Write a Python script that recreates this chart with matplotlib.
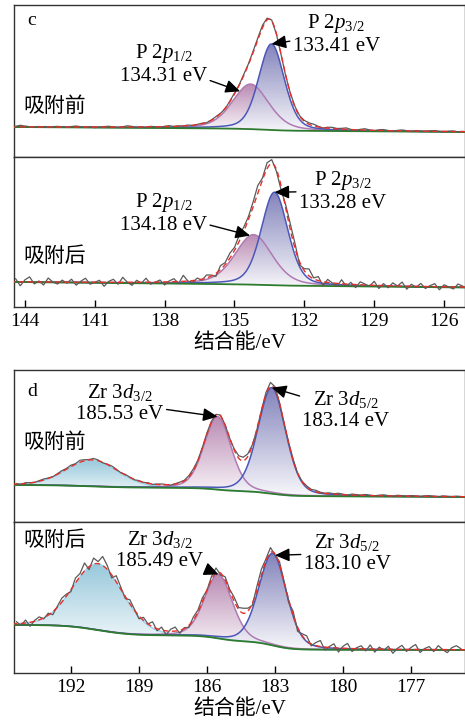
import numpy as np
import matplotlib
matplotlib.use("Agg")
import matplotlib.pyplot as plt
from matplotlib.colors import LinearSegmentedColormap
from matplotlib.patches import Polygon

plt.rcParams['font.family'] = ['Liberation Serif', 'Noto Sans CJK SC']
plt.rcParams['mathtext.fontset'] = 'custom'
plt.rcParams['mathtext.rm'] = 'Liberation Serif'
plt.rcParams['mathtext.it'] = 'Liberation Serif:italic'

# ---------------- P 2p spectra ----------------
p_xlim = (144.47, 125.1)
p_ticks = [144, 141, 138, 135, 132, 129, 126]
p_step = (144.4, 125.2, 0.2)          # measured energy grid: start, end, step

# peak fit: centre (eV), height, FWHM (eV), Lorentzian fraction
p_before_centers = [134.31, 133.41]
p_before_heights = [45, 86]
p_before_fwhm = [1.85, 1.3]
p_before_lfrac = [0.35, 0.3]
p_before_bg = (30, 25, 2)             # left level, right level, Shirley step

p_after_centers = [134.18, 133.28]
p_after_heights = [50, 93]
p_after_fwhm = [1.9, 1.35]
p_after_lfrac = [0.35, 0.3]
p_after_bg = (25, 19.5, 1)

# raw counts minus fitted envelope
p_before_resid = [
    0.5, 1.5, 0.8, 0.2, -0.3, 0.4, 0.0, -0.5, 0.3, 0.6,
    0.2, -0.4, 0.5, 1.0, 0.3, -0.2, 0.4, -0.6, 0.0, 0.5,
    0.8, 0.2, -0.5, 0.3, 1.2, 0.6, -0.3, 0.2, -0.4, 0.5,
    0.0, -0.6, 0.3, 0.8, -0.2, 0.4, 0.0, 0.6, -0.3, 0.2,
    0.5, -0.4, 0.3, 0.8, 0.2, -0.5, 0.6, 1.0, 0.4, 1.2,
    0.8, 1.5, 2.0, 2.5, 1.8, 1.0, -0.5, -1.0, -0.8, 0.5,
    0.8, 0.4, 1.0, 1.5, 1.8, 0.6, -0.3, 0.9, 1.2, 0.4,
    0.8, 1.5, 0.2, -0.5, 0.6, 1.4, 0.3, -0.2, 0.7, 1.0,
    0.2, -0.6, 0.5, 1.0, 0.3, -0.4, 0.6, 0.2, -0.3, 0.5,
    0.8, 0.0, -0.5, 0.4, 0.6, -0.2, 0.3]
p_after_resid = [
    3, -4, 2, 5, -2, 1, -3, 4, 0, -2,
    2, -1, 3, -3, 1, 4, -2, 0, 2, -4,
    1, 3, -2, 5, 0, -3, 2, -1, 4, -2,
    0, 2, -3, 1, 3, -2, 6, 0, -2, 2,
    -1, 3, 1, -3, 4, 2, 5, 3, 6, 4,
    3, 5, 8, 2, 6, 4, -2, -4, 3, 6,
    5, -3, 2, 7, 1, 4, -4, 3, 0, -3,
    4, -2, 2, -3, 3, 1, -1, 4, -3, 2,
    -2, 3, 0, 4, -3, 2, -1, 3, -2, 1,
    3, -3, 2, 0, -2, 3, 1]

# ---------------- Zr 3d spectra ----------------
z_xlim = (194.51, 174.62)
z_ticks = [192, 189, 186, 183, 180, 177]
z_step = (194.4, 174.8, 0.2)

z_before_centers = [191.07, 185.53, 183.14]
z_before_heights = [26, 73, 106]
z_before_fwhm = [2.7, 1.4, 1.45]
z_before_lfrac = [0.1, 0.25, 0.25]
z_before_bg = (37, 25, 10)

z_after_centers = [190.8, 185.49, 183.10]
z_after_heights = [66, 64, 92]
z_after_fwhm = [2.6, 1.45, 1.45]
z_after_lfrac = [0.1, 0.25, 0.25]
z_after_bg = (48, 23, 25)

z_before_resid = [
    0.5, -0.5, 0.8, 0.3, -0.2, 0.6, 1.0, 0.4, -0.3, 0.5,
    1.2, 0.8, 1.5, 0.6, 2.0, 1.0, 0.4, 1.5, 0.8, -0.5,
    0.3, 1.0, 0.5, -0.3, 0.6, 0.2, -0.4, 0.5, 0.0, 0.6,
    -0.3, 0.4, 0.8, 0.2, -0.5, 0.3, 0.8, 0.5, 1.2, 1.5,
    0.8, 1.0, 1.5, 0.6, 0.4, 1.0, 0.3, -0.5, 1.0, 2.5,
    3.5, 2.5, 0.5, -0.8, 0.5, 2.0, 4.0, 3.0, 0.8, -0.5,
    0.6, 1.0, -0.4, 0.5, 1.2, 0.8, 1.5, 0.6, 0.2, 1.0,
    0.4, 1.2, 0.5, -0.3, 1.0, 0.6, 0.2, 1.0, 0.4, -0.2,
    0.6, 1.0, 0.3, -0.4, 0.8, 0.5, 0.0, 0.7, 0.3, -0.3,
    0.5, 0.8, 0.2, -0.4, 0.6, 0.3, 0.0, 0.5, 0.2]
z_after_resid = [
    2, -2, 3, -4, 1, 3, -1, 2, -3, 1,
    4, 2, -2, 5, 3, 8, -3, 6, 2, 9,
    4, -3, 6, 2, -2, 4, 1, -3, 3, 0,
    5, -2, 3, -4, 2, 4, -3, 1, -2, 3,
    2, 4, 0, 3, 5, -2, 3, 1, 4, 2,
    5, 3, -2, 4, 6, 2, 5, -1, 3, 0,
    -3, 4, -4, 2, 5, -2, 3, 6, -3, 1,
    4, -4, 2, 5, -3, 1, 3, -2, 4, -3,
    2, -1, 3, -4, 1, 4, -2, 2, 5, -3,
    1, 3, -2, 4, 0, -3, 2, 4, 1]

state_labels = ['吸附前', '吸附后']
xlabel = '结合能/eV'

BLUE = ('#6c6cb0', '#4b58b8')
PINK = ('#ad76a6', '#b07ab2')
CYAN = ('#86bfd6', '#9fd3ec')


def pvoigt(x, c, h, w, m):
    d = 4 * (x - c) ** 2 / w ** 2
    return h * ((1 - m) * np.exp(-np.log(2) * d) + m / (1 + d))


def shirley(x, comps, bg):
    left, right, step = bg
    xl, xr = x.max(), x.min()
    total = np.sum(comps, axis=0)
    order = np.argsort(x)
    cum = np.zeros_like(x)
    cum[order] = np.cumsum(total[order])
    frac = cum / cum.max()
    lin = right + (left - right - step) * (x - xr) / (xl - xr)
    return lin + step * frac


def grad_fill(ax, x, lower, upper, color):
    verts = np.column_stack([np.r_[x, x[::-1]], np.r_[upper, lower[::-1]]])
    poly = Polygon(verts, closed=True, facecolor='none', edgecolor='none')
    ax.add_patch(poly)
    cmap = LinearSegmentedColormap.from_list('g', ['#ffffff', color])
    grad = np.linspace(0.05, 1, 256).reshape(-1, 1)
    im = ax.imshow(grad, extent=[x.min(), x.max(), lower.min(), upper.max()],
                   origin='lower', cmap=cmap, aspect='auto', alpha=0.85,
                   zorder=1, vmin=0, vmax=1)
    im.set_clip_path(poly)


def spectrum(ax, xlim, step, centers, heights, fwhm, lfrac, bg, resid, colors):
    x = np.linspace(xlim[1], xlim[0], 800)
    comps = [pvoigt(x, c, h, w, m) for c, h, w, m in zip(centers, heights, fwhm, lfrac)]
    base = shirley(x, comps, bg)
    for comp, col in zip(comps, colors):
        grad_fill(ax, x, base, base + comp, col[0])
    for comp, col in zip(comps, colors):
        ax.plot(x, base + comp, color=col[1], lw=1.1, zorder=2)
    ax.plot(x, base, color='#2e7a2e', lw=1.3, zorder=3)
    env = base + np.sum(comps, axis=0)

    xr = np.arange(step[0], step[1] - 1e-6, -step[2])
    env_r = np.interp(xr, x, env)
    ax.plot(xr, env_r + np.asarray(resid), color='#5a5a5a', lw=0.9, zorder=4)
    ax.plot(x, env, color='#e53028', lw=1.0, ls=(0, (4, 2.5)), zorder=5)
    curves = [base + comp for comp in comps]
    return x, curves


def on_curve(x, curve, e):
    return (e, float(np.interp(e, x, curve)))


W, H = 465, 724
fig = plt.figure(figsize=(W / 100, H / 100), dpi=100)


def add_axes(top_px, bot_px):
    ax = fig.add_axes([14 / W, 1 - bot_px / H, 451 / W, (bot_px - top_px) / H])
    ax.set_ylim(0, bot_px - top_px)
    for s in ax.spines.values():
        s.set_linewidth(1.0)
        s.set_color('#333333')
    ax.set_yticks([])
    return ax


ARROW = dict(arrowstyle='-|>,head_length=0.55,head_width=0.25', color='k', lw=1.0,
             mutation_scale=16, shrinkA=0, shrinkB=0)
TXT = dict(fontsize=15, ha='center', va='center', linespacing=1.1, zorder=6)

# ---- panel c ----
ax1 = add_axes(5, 157)
ax2 = add_axes(157, 307)
ax1.set_xticks([])
ax2.set_xticks(p_ticks)
ax2.tick_params(axis='x', direction='in', length=5, width=1.0, labelsize=14, pad=4)
ax2.set_xlabel(xlabel, fontsize=15, labelpad=3)

x, cv = spectrum(ax1, p_xlim, p_step, p_before_centers, p_before_heights,
                 p_before_fwhm, p_before_lfrac, p_before_bg, p_before_resid, [PINK, BLUE])
ax1.annotate('P 2$p_{3/2}$\n133.41 eV', xy=on_curve(x, cv[1], p_before_centers[1]),
             xytext=(130.63, 123), arrowprops=ARROW, **TXT)
ax1.annotate('P 2$p_{1/2}$\n134.31 eV', xy=on_curve(x, cv[0], p_before_centers[0] + 0.45),
             xytext=(138.04, 93), arrowprops=ARROW, **TXT)
ax1.text(0.03, 0.9, 'c', transform=ax1.transAxes, fontsize=14, va='center')
ax1.text(0.02, 0.33, state_labels[0], transform=ax1.transAxes, fontsize=15, va='center')

x, cv = spectrum(ax2, p_xlim, p_step, p_after_centers, p_after_heights,
                 p_after_fwhm, p_after_lfrac, p_after_bg, p_after_resid, [PINK, BLUE])
ax2.annotate('P 2$p_{3/2}$\n133.28 eV', xy=on_curve(x, cv[1], p_after_centers[1]),
             xytext=(130.37, 116), arrowprops=ARROW, **TXT)
ax2.annotate('P 2$p_{1/2}$\n134.18 eV', xy=on_curve(x, cv[0], p_after_centers[0] + 0.15),
             xytext=(138.04, 94), arrowprops=ARROW, **TXT)
ax2.text(0.02, 0.33, state_labels[1], transform=ax2.transAxes, fontsize=15, va='center')

# ---- panel d ----
ax3 = add_axes(370, 522)
ax4 = add_axes(522, 673)
ax3.set_xticks([])
ax4.set_xticks(z_ticks)
ax4.tick_params(axis='x', direction='in', length=5, width=1.0, labelsize=14, pad=4)
ax4.set_xlabel(xlabel, fontsize=15, labelpad=3)

x, cv = spectrum(ax3, z_xlim, z_step, z_before_centers, z_before_heights,
                 z_before_fwhm, z_before_lfrac, z_before_bg, z_before_resid, [CYAN, PINK, BLUE])
ax3.annotate('Zr 3$d_{3/2}$\n185.53 eV', xy=on_curve(x, cv[1], z_before_centers[1]),
             xytext=(189.83, 119), arrowprops=ARROW, **TXT)
ax3.annotate('Zr 3$d_{5/2}$\n183.14 eV', xy=on_curve(x, cv[2], z_before_centers[2]),
             xytext=(179.87, 112), arrowprops=ARROW, **TXT)
ax3.text(0.03, 0.86, 'd', transform=ax3.transAxes, fontsize=14, va='center')
ax3.text(0.02, 0.52, state_labels[0], transform=ax3.transAxes, fontsize=15, va='center')

x, cv = spectrum(ax4, z_xlim, z_step, z_after_centers, z_after_heights,
                 z_after_fwhm, z_after_lfrac, z_after_bg, z_after_resid, [CYAN, PINK, BLUE])
ax4.annotate('Zr 3$d_{3/2}$\n185.49 eV', xy=on_curve(x, cv[1], z_after_centers[1]),
             xytext=(188.07, 123), arrowprops=ARROW, **TXT)
ax4.annotate('Zr 3$d_{5/2}$\n183.10 eV', xy=on_curve(x, cv[2], z_after_centers[2] - 0.1),
             xytext=(179.82, 120), arrowprops=ARROW, **TXT)
ax4.text(0.02, 0.87, state_labels[1], transform=ax4.transAxes, fontsize=15, va='center')

for ax, lim in ((ax1, p_xlim), (ax2, p_xlim), (ax3, z_xlim), (ax4, z_xlim)):
    ax.set_xlim(*lim)
    ax.set_ylim(0, ax.get_ylim()[1])

fig.savefig('out.png', dpi=100)
